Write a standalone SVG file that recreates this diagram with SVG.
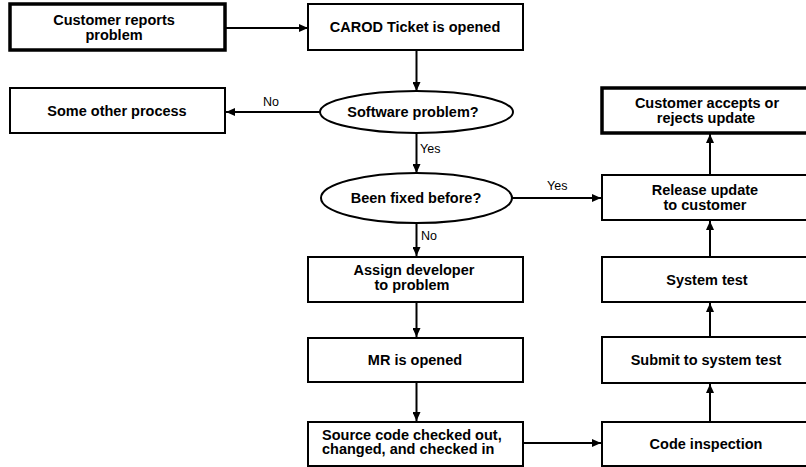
<svg xmlns="http://www.w3.org/2000/svg" width="806" height="467" viewBox="0 0 806 467">
<style>
.box{fill:#fff;stroke:#000;stroke-width:2}
.thick{fill:#fff;stroke:#000;stroke-width:3.5}
.t{font-family:"Liberation Sans",Arial,sans-serif;font-weight:bold;font-size:14.5px;fill:#000;text-anchor:middle}
.l{font-family:"Liberation Sans",Arial,sans-serif;font-size:12.5px;fill:#000}
.c{fill:none;stroke:#000;stroke-width:2;marker-end:url(#ah)}
</style>
<defs>
<marker id="ah" markerWidth="9" markerHeight="8" refX="9" refY="4" orient="auto" markerUnits="userSpaceOnUse">
<path d="M0,0 L9,4 L0,8 Z" fill="#000"/>
</marker>
</defs>
<rect width="806" height="467" fill="#fff"/>
<g id="connectors">
<line class="c" x1="225" y1="28" x2="308" y2="28"/>
<line class="c" x1="416.5" y1="50" x2="416.5" y2="91"/>
<line class="c" x1="320" y1="112" x2="226" y2="112"/>
<line class="c" x1="416.5" y1="133" x2="416.5" y2="173"/>
<line class="c" x1="512" y1="198" x2="601" y2="198"/>
<line class="c" x1="416.5" y1="223" x2="416.5" y2="256"/>
<line class="c" x1="416.5" y1="302" x2="416.5" y2="337"/>
<line class="c" x1="416.5" y1="382" x2="416.5" y2="421"/>
<line class="c" x1="523" y1="443" x2="601" y2="443"/>
<line class="c" x1="710" y1="422" x2="710" y2="384"/>
<line class="c" x1="710" y1="337" x2="710" y2="303"/>
<line class="c" x1="710" y1="257" x2="710" y2="221"/>
<line class="c" x1="710" y1="175" x2="710" y2="134"/>
<text class="l" x="263" y="106">No</text>
<text class="l" x="420" y="153">Yes</text>
<text class="l" x="547" y="190">Yes</text>
<text class="l" x="421" y="240">No</text>
</g>
<g id="customer-reports">
<rect class="thick" x="10" y="4" width="215" height="46"/>
<text class="t" x="114" y="25">Customer reports</text>
<text class="t" x="114" y="40">problem</text>
</g>
<g id="carod-ticket">
<rect class="box" x="308" y="4" width="215" height="46"/>
<text class="t" x="415" y="32">CAROD Ticket is opened</text>
</g>
<g id="software-problem">
<ellipse class="box" cx="416.5" cy="112" rx="96.5" ry="21"/>
<text class="t" x="413" y="117">Software problem?</text>
</g>
<g id="other-process">
<rect class="box" x="10" y="88" width="215" height="45"/>
<text class="t" x="117" y="116">Some other process</text>
</g>
<g id="fixed-before">
<ellipse class="box" cx="416.5" cy="198" rx="95.5" ry="25"/>
<text class="t" x="416" y="203">Been fixed before?</text>
</g>
<g id="assign-developer">
<rect class="box" x="308" y="257" width="215" height="45"/>
<text class="t" x="414" y="275">Assign developer</text>
<text class="t" x="412" y="290">to problem</text>
</g>
<g id="mr-opened">
<rect class="box" x="308" y="338" width="215" height="44"/>
<text class="t" x="415" y="365">MR is opened</text>
</g>
<g id="source-code">
<rect class="box" x="308" y="422" width="215" height="44"/>
<text class="t" x="322" y="439.5" style="text-anchor:start">Source code checked out,</text>
<text class="t" x="322" y="454" style="text-anchor:start">changed, and checked in</text>
</g>
<g id="code-inspection">
<rect class="box" x="602" y="422" width="216" height="44"/>
<text class="t" x="706" y="449">Code inspection</text>
</g>
<g id="submit-test">
<rect class="box" x="602" y="337" width="216" height="46"/>
<text class="t" x="706" y="365">Submit to system test</text>
</g>
<g id="system-test">
<rect class="box" x="602" y="257" width="216" height="45"/>
<text class="t" x="707" y="285">System test</text>
</g>
<g id="release-update">
<rect class="box" x="602" y="175" width="216" height="45"/>
<text class="t" x="705" y="195">Release update</text>
<text class="t" x="705" y="210">to customer</text>
</g>
<g id="customer-accepts">
<rect class="thick" x="602" y="88" width="216" height="45"/>
<text class="t" x="707" y="108">Customer accepts or</text>
<text class="t" x="706" y="123">rejects update</text>
</g>
</svg>
